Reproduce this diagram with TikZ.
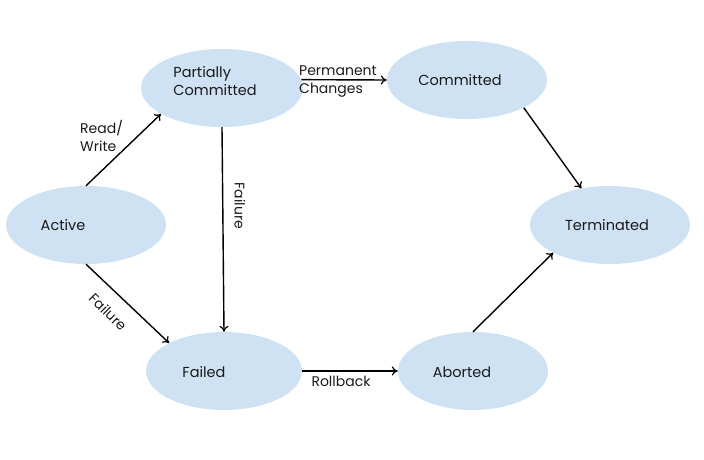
\documentclass[tikz,border=0pt]{standalone}
\usepackage{fontspec}
\setmainfont{Poppins}
\usetikzlibrary{shapes.geometric,arrows.meta}
\definecolor{stfill}{HTML}{CFE2F3}
\definecolor{txt}{HTML}{1A1A1A}
\tikzset{
  state/.style={ellipse, fill=stfill, draw=none, minimum width=160pt, minimum height=78pt,
    inner sep=0pt},
  stext/.style={font=\fontsize{14.5}{17.5}\selectfont, text=txt, align=left, inner sep=0pt},
  conn/.style={line width=1.4pt, -{To[length=6pt,width=9pt,line width=1.2pt]}},
  lbl/.style={font=\fontsize{14}{18}\selectfont, text=txt, align=left, inner sep=0pt}
}
\begin{document}
\begin{tikzpicture}[x=1pt,y=-1pt]
\useasboundingbox (0,0) rectangle (704,460);
\node[state] (act) at (86,225) {};
\node[state, minimum width=162pt] (pc) at (222,88) {};
\node[state] (com) at (467,80) {};
\node[state] (term) at (610,225) {};
\node[state, minimum width=156pt] (fail) at (224,371) {};
\node[state, minimum width=150pt] (abt) at (473,371) {};

\node[stext] (actt) at (63,225) {Active};
\node[stext] (pct) at (215,81) {Partially\\Committed};
\node[stext] (comt) at (460,80) {Committed};
\node[stext] (termt) at (607,225) {Terminated};
\node[stext] (failt) at (204,372) {Failed};
\node[stext] (abtt) at (462,372) {Aborted};

\draw[conn] (act.north) -- (pc.203);
\draw[conn] (act.south) -- (fail.153);
\draw[conn] (pc.south) -- (fail.north);
\draw[conn] (pc.6) -- (com.west);
\draw[conn] (com.-26) -- (term.128);
\draw[conn] (fail.east) -- (abt.west);
\draw[conn] (abt.north) -- (term.206);

\node[lbl, anchor=west] (l1) at (80,136) {Read/\\Write};
\node[lbl, rotate=-45] (l2) at (108,312) {Failure};
\node[lbl, rotate=-90] (l3) at (240,206) {Failure};
\node[lbl, anchor=west] (l4) at (299,82) {Permanent\\Changes};
\node[lbl] (l5) at (341,381) {Rollback};
\end{tikzpicture}
\end{document}
